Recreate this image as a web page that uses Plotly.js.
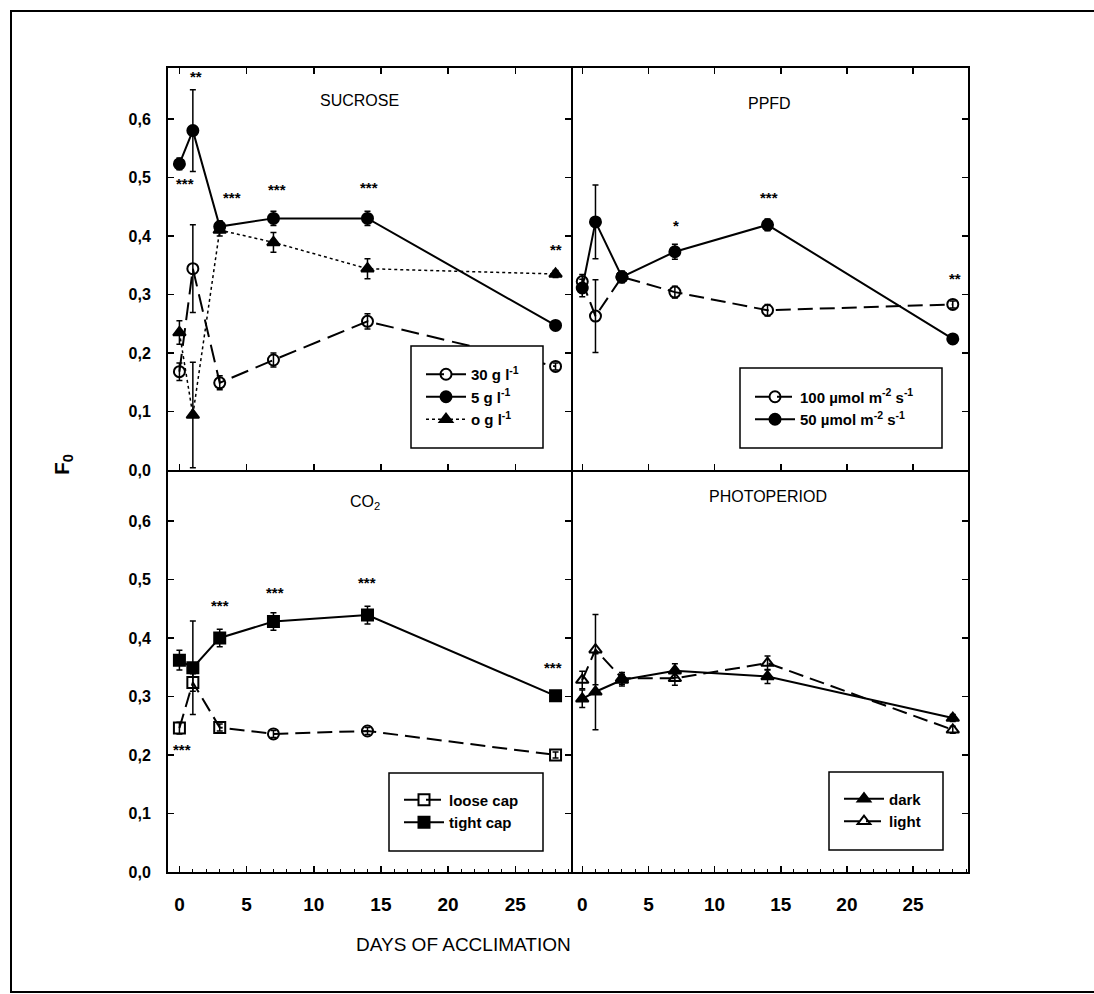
<!DOCTYPE html>
<html>
<head>
<meta charset="utf-8">
<script src="https://cdn.plot.ly/plotly-3.0.1.min.js"></script>
<style>
html,body{margin:0;padding:0;background:#fff;}
#chart{width:1094px;height:994px;}
</style>
</head>
<body>
<div id="chart"></div>
<script>
// ---------- data ----------
const days = [0, 1, 3, 7, 14, 28];

// SUCROSE
const suc30 = [0.168, 0.344, 0.149, 0.188, 0.254, 0.177];
const suc30Err = [0.015, 0.075, 0.012, 0.012, 0.013, 0.006];
const suc5 = [0.523, 0.580, 0.416, 0.430, 0.430, 0.247];
const suc5Err = [0.010, 0.070, 0.010, 0.012, 0.012, 0.005];
const suc0 = [0.235, 0.094, 0.410, 0.389, 0.344, 0.335];
const suc0Err = [0.020, 0.090, 0.010, 0.017, 0.017, 0.006];
const sucSigX = [0.4, 1.2, 3.9, 7.3, 14.1, 28.0];
const sucSigY = [0.489, 0.672, 0.465, 0.480, 0.483, 0.376];
const sucSigText = ['***', '**', '***', '***', '***', '**'];

// PPFD
const ppfd100 = [0.322, 0.263, 0.330, 0.304, 0.273, 0.283];
const ppfd100Err = [0.012, 0.062, 0.008, 0.010, 0.010, 0.006];
const ppfd50 = [0.311, 0.424, 0.330, 0.373, 0.419, 0.224];
const ppfd50Err = [0.015, 0.063, 0.010, 0.013, 0.010, 0.005];
const ppfdSigX = [7.1, 14.1, 28.2];
const ppfdSigY = [0.418, 0.465, 0.328];
const ppfdSigText = ['*', '***', '**'];

// CO2
const loose = [0.246, 0.324, 0.247, 0.236, 0.241, 0.200];
const looseErr = [0.010, 0.015, 0.006, 0.006, 0.006, 0.005];
const tight = [0.362, 0.349, 0.400, 0.428, 0.439, 0.301];
const tightErr = [0.017, 0.080, 0.015, 0.015, 0.015, 0.006];
const co2SigX = [0.2, 3.0, 7.1, 14.0, 27.8];
const co2SigY = [0.210, 0.455, 0.477, 0.494, 0.350];
const co2SigText = ['***', '***', '***', '***', '***'];

// PHOTOPERIOD
const dark = [0.296, 0.308, 0.328, 0.344, 0.334, 0.263];
const darkErr = [0.015, 0.065, 0.010, 0.012, 0.012, 0.006];
const light = [0.328, 0.380, 0.331, 0.331, 0.357, 0.243];
const lightErr = [0.015, 0.060, 0.010, 0.012, 0.012, 0.006];

const panelTitles = ['SUCROSE', 'PPFD', 'CO<sub>2</sub>', 'PHOTOPERIOD'];
const xTickVals = [0, 5, 10, 15, 20, 25];
const yTickVals = [0, 0.1, 0.2, 0.3, 0.4, 0.5, 0.6];

// ---------- styling ----------
const FONT = 'Liberation Sans, Arial, sans-serif';
const BLACK = '#000';

function err(arr) {
  return {type: 'data', array: arr, visible: true, color: BLACK, thickness: 1.5, width: 3};
}
function trace(y, e, name, xa, ya, leg, symbol, dash, lw) {
  return {
    x: days, y: y, name: name, type: 'scatter', mode: 'lines+markers',
    xaxis: xa, yaxis: ya, legend: leg,
    line: {color: BLACK, width: lw || 2, dash: dash},
    marker: {symbol: symbol, size: 11, color: BLACK, line: {color: BLACK, width: 2}},
    error_y: err(e)
  };
}

const data = [
  trace(suc30, suc30Err, '30 g l<sup>-1</sup>', 'x', 'y', 'legend', 'circle-open', '18px,8px'),
  trace(suc5, suc5Err, '5 g l<sup>-1</sup>', 'x', 'y', 'legend', 'circle', 'solid'),
  trace(suc0, suc0Err, 'o g l<sup>-1</sup>', 'x', 'y', 'legend', 'triangle-up', 'dot', 1.5),
  trace(ppfd100, ppfd100Err, '100 µmol m<sup>-2</sup> s<sup>-1</sup>', 'x2', 'y2', 'legend2', 'circle-open', '15px,7px'),
  trace(ppfd50, ppfd50Err, '50 µmol m<sup>-2</sup> s<sup>-1</sup>', 'x2', 'y2', 'legend2', 'circle', 'solid'),
  trace(loose, looseErr, 'loose cap', 'x3', 'y3', 'legend3',
        ['square-open', 'square-open', 'square-open', 'circle-open', 'circle-open', 'square-open'], '15px,7px'),
  trace(tight, tightErr, 'tight cap', 'x3', 'y3', 'legend3', 'square', 'solid'),
  trace(dark, darkErr, 'dark', 'x4', 'y4', 'legend4', 'triangle-up', 'solid'),
  trace(light, lightErr, 'light', 'x4', 'y4', 'legend4', 'triangle-up-open', '15px,7px')
];

const W = 1094, H = 994;
const L = 168, R = 968, T = 68, B = 872;
const px = v => (v - L) / (R - L);
const py = v => (B - v) / (B - T);
const split = px(571);

function xAxis(domain, anchor, showLabels, minor, mirror) {
  const a = {
    domain: domain, anchor: anchor, range: [-0.85, 29.15], side: 'bottom',
    showgrid: false, zeroline: false, showline: true, linecolor: BLACK, linewidth: 2,
    mirror: mirror, ticks: 'inside', ticklen: 6, tickwidth: 1.5, tickcolor: BLACK,
    tickvals: xTickVals, showticklabels: showLabels,
    tickfont: {family: 'Liberation Sans Narrow, Liberation Sans, Arial', size: 19, color: BLACK, weight: 'bold'},
    ticklabelstandoff: 14
  };
  if (minor) a.minor = {dtick: 1, tick0: 0, ticks: 'inside', ticklen: 3, tickwidth: 1, tickcolor: BLACK, showgrid: false};
  return a;
}
function yAxis(domain, anchor, showLabels, side, mirror) {
  return {
    domain: domain, anchor: anchor, range: [0, 0.687], side: side,
    showgrid: false, zeroline: false, showline: true, linecolor: BLACK, linewidth: 2,
    mirror: mirror, ticks: 'inside', ticklen: 6, tickwidth: 1.5, tickcolor: BLACK,
    tickvals: yTickVals, tickformat: '.1f', showticklabels: showLabels,
    tickfont: {family: FONT, size: 16, color: BLACK, weight: 'bold'},
    ticklabelstandoff: 12
  };
}

function sigAnn(xs, ys, ts, xref, yref) {
  return xs.map((x, i) => ({
    x: x, y: ys[i], xref: xref, yref: yref, text: ts[i], showarrow: false,
    xanchor: 'center', yanchor: 'middle',
    font: {family: FONT, size: 15, color: BLACK, weight: 'bold'}
  }));
}
function legendAt(x, yc) {
  return {
    x: px(x), y: py(yc), xref: 'paper', yref: 'paper', xanchor: 'left', yanchor: 'middle',
    bgcolor: 'rgba(0,0,0,0)', borderwidth: 0, itemwidth: 40,
    font: {family: FONT, size: 15, color: BLACK, weight: 'bold'},
    tracegroupgap: 0, traceorder: 'normal'
  };
}
function box(x0, y0, x1, y1) {
  return {type: 'rect', xref: 'paper', yref: 'paper', x0: px(x0), x1: px(x1), y0: py(y1), y1: py(y0),
          line: {color: BLACK, width: 1.5}, fillcolor: '#fff', layer: 'above'};
}

const titleFont = {family: FONT, size: 16, color: BLACK};
function ptitle(ax, x, yPix, text) {
  return {xref: ax + ' domain', yref: 'paper', x: x, y: py(yPix), text: text, showarrow: false,
          xanchor: 'center', yanchor: 'middle', font: titleFont};
}
const annotations = [
  ptitle('x', 0.476, 100, panelTitles[0]),
  ptitle('x2', 0.50, 103, panelTitles[1]),
  ptitle('x3', 0.489, 502, panelTitles[2]),
  ptitle('x4', 0.496, 497, panelTitles[3]),
  {xref: 'paper', yref: 'paper', x: px(63), y: py(465), text: 'F<sub>0</sub>', textangle: -90, showarrow: false,
   xanchor: 'center', yanchor: 'middle',
   font: {family: FONT, size: 21, color: BLACK, weight: 'bold'}},
  {xref: 'paper', yref: 'paper', x: px(463), y: py(944), text: 'DAYS OF ACCLIMATION', showarrow: false,
   xanchor: 'center', yanchor: 'middle',
   font: {family: FONT, size: 19, color: BLACK}}
].concat(
  sigAnn(sucSigX, sucSigY, sucSigText, 'x', 'y'),
  sigAnn(ppfdSigX, ppfdSigY, ppfdSigText, 'x2', 'y2'),
  sigAnn(co2SigX, co2SigY, co2SigText, 'x3', 'y3')
);

const layout = {
  width: W, height: H,
  margin: {l: L, r: W - R, t: T, b: H - B, pad: 0},
  paper_bgcolor: '#fff', plot_bgcolor: '#fff',
  separators: ', ',
  showlegend: true,
  font: {family: FONT, color: BLACK},
  xaxis: xAxis([0, split], 'y', false, false, 'ticks'),
  yaxis: yAxis([0.5, 1], 'x', true, 'left', 'ticks'),
  xaxis2: xAxis([split, 1], 'y2', false, false, 'ticks'),
  yaxis2: yAxis([0.5, 1], 'x2', false, 'right', false),
  xaxis3: xAxis([0, split], 'y3', true, true, false),
  yaxis3: yAxis([0, 0.5], 'x3', true, 'left', 'ticks'),
  xaxis4: xAxis([split, 1], 'y4', true, true, false),
  yaxis4: yAxis([0, 0.5], 'x4', false, 'right', false),
  legend: legendAt(421, 397),
  legend2: legendAt(750, 408),
  legend3: legendAt(399, 811),
  legend4: legendAt(839, 810),
  annotations: annotations,
  shapes: [
    {type: 'rect', xref: 'paper', yref: 'paper', x0: px(11), x1: px(1100), y0: py(992), y1: py(11),
     line: {color: BLACK, width: 2}, fillcolor: 'rgba(0,0,0,0)', layer: 'below'},
    box(411, 346, 543, 448),
    box(740, 368, 942, 448),
    box(389, 773, 543, 851),
    box(829, 772, 943, 850)
  ]
};

Plotly.newPlot('chart', data, layout, {displayModeBar: false, staticPlot: true});
</script>
</body>
</html>
